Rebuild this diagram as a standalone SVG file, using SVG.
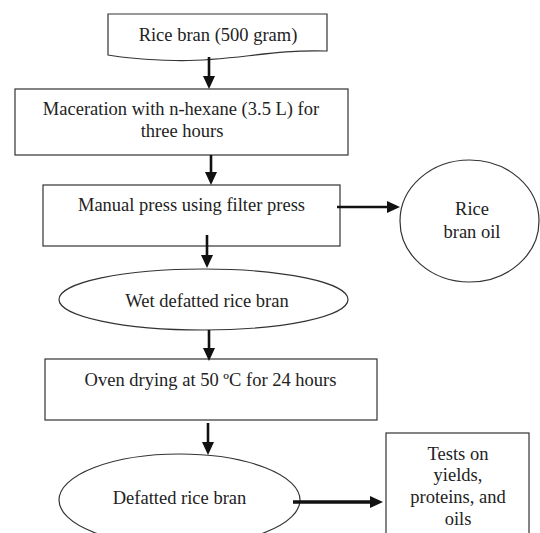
<svg xmlns="http://www.w3.org/2000/svg" width="540" height="533" viewBox="0 0 540 533">
<style>
.shape{fill:#fff;stroke:#333;stroke-width:1.2}
.lbl{font-family:"Liberation Serif","Times New Roman",serif;font-size:18.5px;fill:#222;text-anchor:middle}
.arr{stroke:#111;stroke-width:2.6;fill:none;marker-end:url(#ah)}
</style>
<defs>
<marker id="ah" viewBox="0 0 13 12" refX="7" refY="6" markerWidth="13" markerHeight="12" markerUnits="userSpaceOnUse" orient="auto">
<path d="M0,0 L13,6 L0,12 Z" fill="#111"/>
</marker>
</defs>
<rect width="540" height="533" fill="#fff"/>
<g id="n1">
<path class="shape" d="M108,14 H327 V51 C270,49 230,62 175,60.5 C140,59.5 122,57.5 108,55 Z"/>
<text class="lbl" x="218" y="41">Rice bran (500 gram)</text>
</g>
<g id="n2">
<rect class="shape" x="15" y="89" width="333" height="66"/>
<text class="lbl" x="181" y="115">Maceration with n-hexane (3.5 L) for</text>
<text class="lbl" x="182" y="137">three hours</text>
</g>
<g id="n3">
<rect class="shape" x="43" y="185" width="297" height="61"/>
<text class="lbl" x="191.5" y="211">Manual press using filter press</text>
</g>
<g id="n4">
<ellipse class="shape" cx="469.5" cy="221" rx="69.5" ry="61"/>
<text class="lbl" x="472" y="215">Rice</text>
<text class="lbl" x="472" y="238">bran oil</text>
</g>
<g id="n5">
<ellipse class="shape" cx="203.5" cy="299.5" rx="144.5" ry="30.5"/>
<text class="lbl" x="207" y="307">Wet defatted rice bran</text>
</g>
<g id="n6">
<rect class="shape" x="45" y="359" width="332" height="61"/>
<text class="lbl" x="210.5" y="386">Oven drying at 50 ºC for 24 hours</text>
</g>
<g id="n7">
<ellipse class="shape" cx="179.5" cy="500" rx="120.5" ry="46"/>
<text class="lbl" x="179.5" y="504">Defatted rice bran</text>
</g>
<g id="n8">
<rect class="shape" x="386" y="433" width="143" height="110"/>
<text class="lbl" x="458" y="460">Tests on</text>
<text class="lbl" x="458" y="481">yields,</text>
<text class="lbl" x="458" y="503">proteins, and</text>
<text class="lbl" x="458" y="525">oils</text>
</g>
<g id="connectors">
<line class="arr" x1="209" y1="57" x2="209" y2="83"/>
<line class="arr" x1="211" y1="155" x2="211" y2="179"/>
<line class="arr" x1="337" y1="207" x2="394" y2="207"/>
<line class="arr" x1="207" y1="235" x2="207" y2="262"/>
<line class="arr" x1="209" y1="330" x2="209" y2="355"/>
<line class="arr" x1="208" y1="423" x2="208" y2="449"/>
<line class="arr" x1="293" y1="502" x2="377" y2="502" style="stroke-width:3.4"/>
</g>
</svg>
